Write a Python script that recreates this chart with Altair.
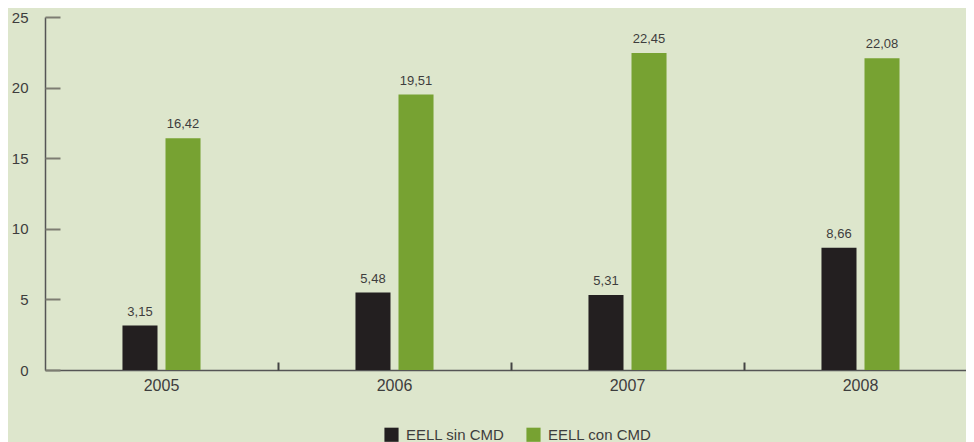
import altair as alt
import pandas as pd

years = ["2005", "2006", "2007", "2008"]
series = ["EELL sin CMD", "EELL con CMD"]
sin_cmd = [3.15, 5.48, 5.31, 8.66]
con_cmd = [16.42, 19.51, 22.45, 22.08]
y_ticks = [0, 5, 10, 15, 20, 25]

rows = []
for i, y in enumerate(years):
    for s, vals in zip(series, [sin_cmd, con_cmd]):
        v = vals[i]
        rows.append({"year": y, "serie": s, "value": v,
                     "label": f"{v:.2f}".replace(".", ",")})
df = pd.DataFrame(rows)

W, H = 921, 353
RANGE_W = 932
PI = 0.665
STEP = RANGE_W / 4
FONT = "Liberation Sans"
TXT = "#3d3d3d"

x_scale = alt.Scale(paddingInner=PI, paddingOuter=PI / 2, range=[0, RANGE_W])
off_scale = alt.Scale(paddingInner=0.186, paddingOuter=0)
y_scale = alt.Scale(domain=[0, 25], nice=False)
color_scale = alt.Scale(domain=series, range=["#231f20", "#77a232"])

base = alt.Chart(df)

bars = base.mark_bar().encode(
    x=alt.X("year:N", scale=x_scale, sort=years,
            axis=alt.Axis(title=None, labelAngle=0, ticks=False, domain=True,
                          domainColor="#555555", domainWidth=1.5,
                          labelFont=FONT, labelFontSize=16, labelColor=TXT,
                          labelPadding=7)),
    xOffset=alt.XOffset("serie:N", scale=off_scale, sort=series),
    y=alt.Y("value:Q", scale=y_scale,
            axis=alt.Axis(title=None, values=y_ticks, ticks=False, domain=True,
                          domainColor="#555555", domainWidth=1.5, grid=False,
                          labelFont=FONT, labelFontSize=15, labelColor=TXT,
                          labelPadding=17)),
    color=alt.Color("serie:N", scale=color_scale, sort=series,
                    legend=alt.Legend(title=None, orient="none", direction="horizontal",
                                      legendX=339, legendY=410,
                                      symbolType="square", symbolSize=200,
                                      symbolStrokeWidth=0, symbolOpacity=1,
                                      labelFont=FONT, labelFontSize=15,
                                      labelColor=TXT, labelOffset=7,
                                      columnPadding=21, padding=0)),
)

labels = base.mark_text(baseline="bottom", dy=-7, font=FONT, fontSize=13,
                        color=TXT).encode(
    x=alt.X("year:N", scale=x_scale, sort=years,
            axis=alt.Axis(title=None, orient="top", offset=-H, labels=False,
                          domain=False, ticks=True, bandPosition=1,
                          tickOffset=PI * STEP / 2,
                          tickSize=8, tickColor="#444444", tickWidth=2)),
    xOffset=alt.XOffset("serie:N", scale=off_scale, sort=series),
    y=alt.Y("value:Q", scale=y_scale,
            axis=alt.Axis(title=None, orient="right", offset=-W, labels=False,
                          domain=False, ticks=True, values=y_ticks, grid=False,
                          tickSize=15, tickColor="#7d7d72", tickWidth=2)),
    text="label:N",
)

chart = alt.layer(bars, labels).resolve_axis(
    x="independent", y="independent"
).properties(
    width=W, height=H,
    background="#dde6cc",
    padding={"left": 37, "top": 9, "right": 0, "bottom": 72},
    autosize=alt.AutoSizeParams(type="none"),
).configure_view(stroke=None)

chart.save("out.html", embed_options={"renderer": "svg", "actions": False})
